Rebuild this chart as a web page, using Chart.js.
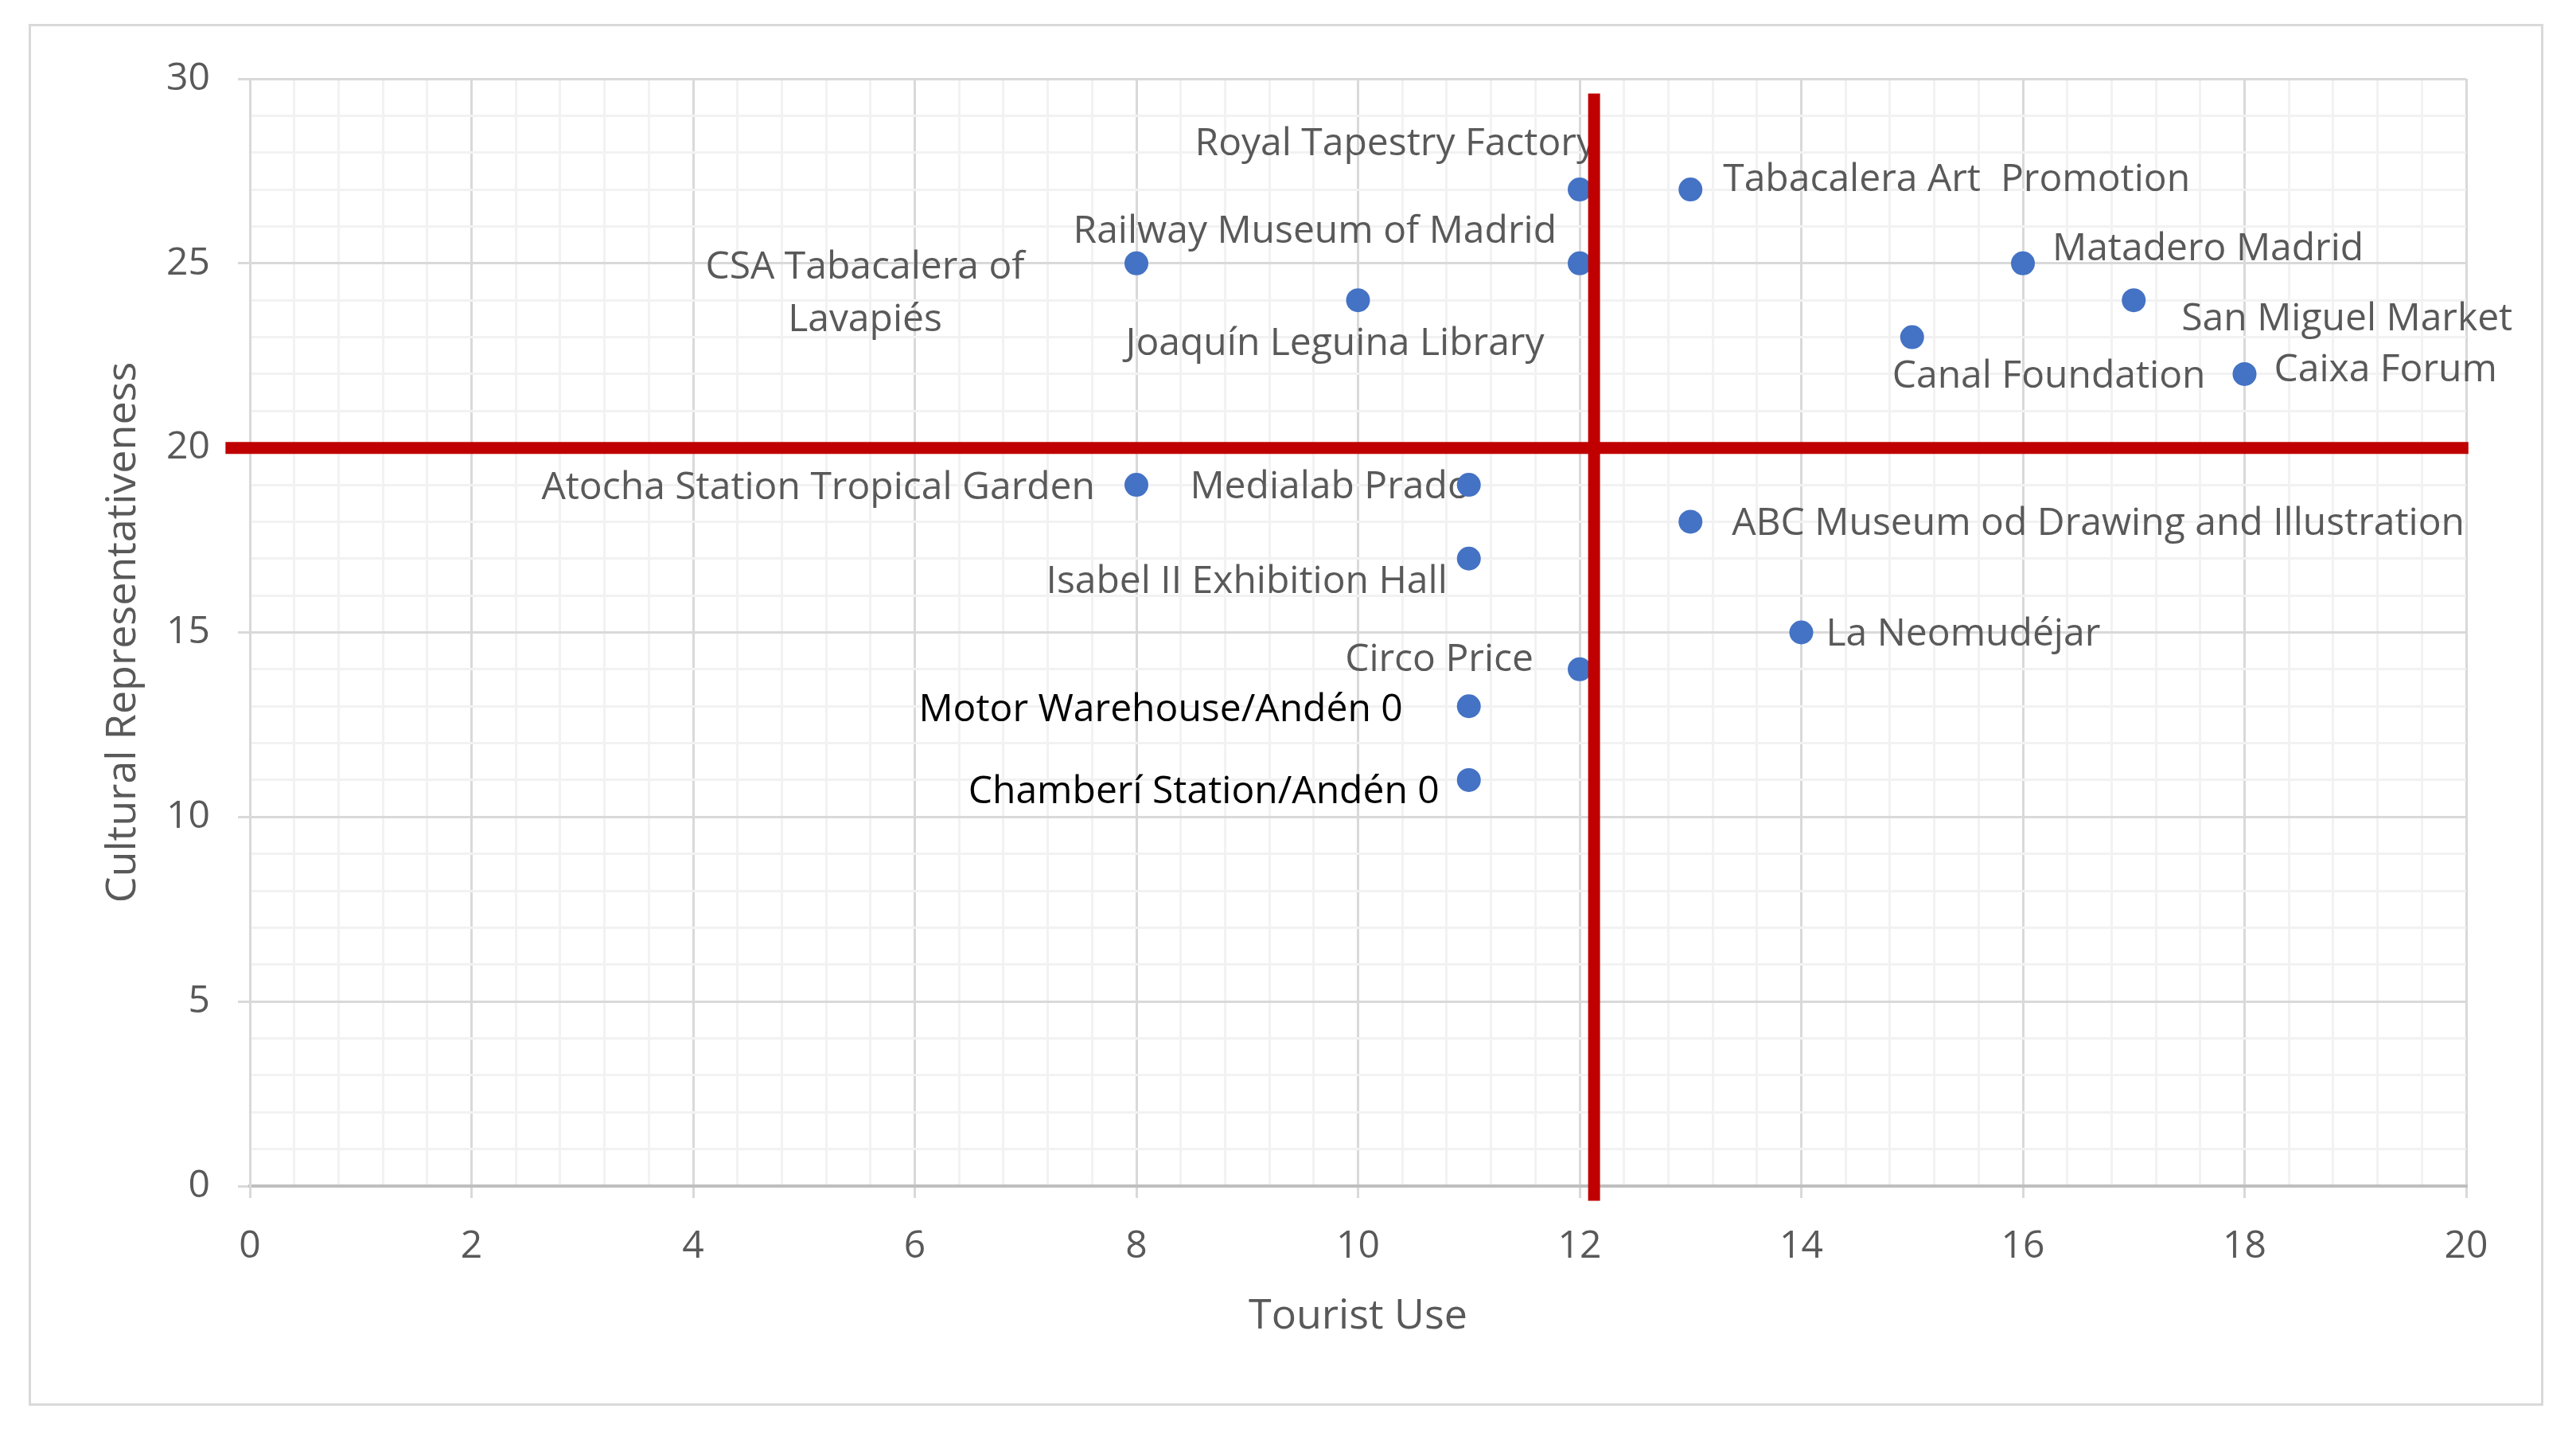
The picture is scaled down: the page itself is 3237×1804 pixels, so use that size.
<!DOCTYPE html>
<html>
<head>
<meta charset="utf-8">
<title>Tourist use vs cultural representativeness</title>
<script src="https://cdn.jsdelivr.net/npm/chart.js@4.4.1/dist/chart.umd.min.js"></script>
<style>
    html, body { margin: 0; padding: 0; background: #ffffff; }
    #frame {
        position: absolute;
        left: 36px;
        top: 30px;
        width: 3160px;
        height: 1736px;
        box-sizing: border-box;
        border: 3px solid #d9d9d9;
    }
    canvas { display: block; }
</style>
</head>
<body>
<div id="frame"><canvas id="quadrant" width="3154" height="1730"></canvas></div>
<script>
// Places and their scores
const places = [
    "Royal Tapestry Factory",
    "Tabacalera Art  Promotion",
    "Railway Museum of Madrid",
    "CSA Tabacalera of\nLavapiés",
    "Joaquín Leguina Library",
    "Matadero Madrid",
    "San Miguel Market",
    "Canal Foundation",
    "Caixa Forum",
    "Atocha Station Tropical Garden",
    "Medialab Prado",
    "ABC Museum od Drawing and Illustration",
    "Isabel II Exhibition Hall",
    "La Neomudéjar",
    "Circo Price",
    "Motor Warehouse/Andén 0",
    "Chamberí Station/Andén 0"
];
const tourist_use = [12, 13, 12, 8, 10, 16, 17, 15, 18, 8, 11, 13, 11, 14, 12, 11, 11];
const cultural_rep = [27, 27, 25, 25, 24, 25, 24, 23, 22, 19, 19, 18, 17, 15, 14, 13, 11];

// Quadrant cut-off lines (red)
const cut_use_x = [12.13, 12.13];
const cut_use_y = [29.6, -0.4];
const cut_rep_x = [-0.22, 20.02];
const cut_rep_y = [20, 20];

// Axis ticks
const x_major = [0, 2, 4, 6, 8, 10, 12, 14, 16, 18, 20];
const y_major = [0, 5, 10, 15, 20, 25, 30];
const x_minor_step = 0.4;
const y_minor_step = 1;

// Where each label sits next to its point: [textAlign, dx, dy] in px
const label_place = [
    ["right", 20, -57],
    ["left", 41, -12],
    ["right", -29, -40],
    ["center", -341, 5],
    ["center", -29, 55],
    ["left", 37, -18],
    ["left", 60, 24],
    ["left", -25, 50],
    ["left", 37, -5],
    ["right", -52, 4],
    ["right", 2, 3],
    ["left", 52, 3],
    ["right", -27, 30],
    ["left", 31, 3],
    ["right", -58, -12],
    ["right", -83, 5],
    ["right", -37, 15]
];
const dark_labels = [15, 16];

const grey_text = "#595959";
const major_grid = "#d9d9d9";
const minor_grid = "#f2f2f2";

function steps(max, step) {
    let out = [];
    for (let i = 0; i * step <= max + 1e-9; i ++) {
        out.push(Math.round(i * step * 10) / 10);
    }
    return out;
}
const x_grid = steps(20, x_minor_step);
const y_grid = steps(30, y_minor_step);

const pointLabels = {
    id: "pointLabels",
    beforeDatasetsDraw(chart) {
        const ctx = chart.ctx;
        const xs = chart.scales.x;
        const ys = chart.scales.y;
        ctx.save();
        ctx.font = '48px "Open Sans"';
        ctx.textBaseline = "middle";
        for (let i = 0; i < places.length; i ++) {
            const [align, dx, dy] = label_place[i];
            const px = xs.getPixelForValue(tourist_use[i]) + dx;
            const py = ys.getPixelForValue(cultural_rep[i]) + dy;
            ctx.fillStyle = dark_labels.includes(i) ? "#000000" : grey_text;
            ctx.textAlign = align;
            places[i].split("\n").forEach((line, j) => {
                ctx.fillText(line, px, py + j * 66);
            });
        }
        ctx.restore();
    }
};

Chart.defaults.font.family = '"Open Sans", sans-serif';
Chart.defaults.color = grey_text;

const point_data = tourist_use.map((v, i) => ({ x: v, y: cultural_rep[i] }));

const config = {
    type: "scatter",
    data: {
        datasets: [
            {
                label: "Tourist use cut-off",
                data: cut_use_x.map((v, i) => ({ x: v, y: cut_use_y[i] })),
                showLine: true,
                borderColor: "#c00000",
                borderWidth: 15,
                pointRadius: 0,
                pointHoverRadius: 0,
                clip: false,
                order: 0
            },
            {
                label: "Representativeness cut-off",
                data: cut_rep_x.map((v, i) => ({ x: v, y: cut_rep_y[i] })),
                showLine: true,
                borderColor: "#c00000",
                borderWidth: 15,
                pointRadius: 0,
                pointHoverRadius: 0,
                clip: false,
                order: 1
            },
            {
                label: "Places",
                data: point_data,
                pointRadius: 15,
                pointHoverRadius: 15,
                backgroundColor: "#4472c4",
                borderWidth: 0,
                clip: false,
                order: 2
            }
        ]
    },
    options: {
        responsive: false,
        animation: false,
        layout: {
            padding: { left: 0, top: 66, right: 94, bottom: 0 }
        },
        plugins: {
            legend: { display: false },
            tooltip: { enabled: false }
        },
        scales: {
            x: {
                type: "linear",
                min: 0,
                max: 20,
                afterBuildTicks: s => { s.ticks = x_grid.map(v => ({ value: v })); },
                afterFit: s => { s.height = 273; },
                ticks: {
                    autoSkip: false,
                    maxRotation: 0,
                    padding: 33,
                    color: grey_text,
                    font: { size: 48 },
                    callback: v => x_major.includes(v) ? String(v) : ""
                },
                grid: {
                    lineWidth: 3,
                    tickLength: 15,
                    color: c => (c.tick && x_major.includes(c.tick.value)) ? major_grid : minor_grid,
                    tickColor: c => (c.tick && x_major.includes(c.tick.value)) ? major_grid : "rgba(0,0,0,0)"
                },
                border: { color: "#bfbfbf", width: 4 },
                title: {
                    display: true,
                    text: "Tourist Use",
                    color: grey_text,
                    font: { size: 52 },
                    padding: { top: 0, bottom: 78 }
                }
            },
            y: {
                type: "linear",
                min: 0,
                max: 30,
                afterBuildTicks: s => { s.ticks = y_grid.map(v => ({ value: v })); },
                afterFit: s => { s.width = 275; },
                ticks: {
                    autoSkip: false,
                    padding: 35,
                    color: grey_text,
                    font: { size: 48 },
                    callback: v => y_major.includes(v) ? String(v) : ""
                },
                grid: {
                    lineWidth: 3,
                    tickLength: 15,
                    color: c => (c.tick && y_major.includes(c.tick.value)) ? major_grid : minor_grid,
                    tickColor: c => (c.tick && y_major.includes(c.tick.value)) ? major_grid : "rgba(0,0,0,0)"
                },
                border: { color: major_grid, width: 3 },
                title: {
                    display: true,
                    text: "Cultural Representativeness",
                    color: grey_text,
                    font: { size: 52 },
                    padding: { top: 85, bottom: 0 }
                }
            }
        }
    },
    plugins: [pointLabels]
};

const chart = new Chart(document.getElementById("quadrant").getContext("2d"), config);
</script>
</body>
</html>
